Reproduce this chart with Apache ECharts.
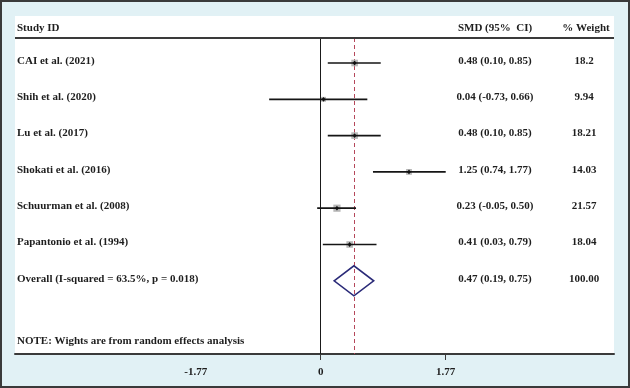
<!DOCTYPE html>
<html>
<head>
<meta charset="utf-8">
<script src="https://cdn.jsdelivr.net/npm/echarts@6/dist/echarts.min.js"></script>
<style>
html,body{margin:0;padding:0;background:#e1f1f5;}
#c{width:630px;height:388px;}
</style>
</head>
<body>
<div id="c"></div>
<script>
const studies = ["CAI et al. (2021)", "Shih et al. (2020)", "Lu et al. (2017)", "Shokati et al. (2016)", "Schuurman et al. (2008)", "Papantonio et al. (1994)"];
const smd = [0.48, 0.04, 0.48, 1.25, 0.23, 0.41];
const lower = [0.10, -0.73, 0.10, 0.74, -0.05, 0.03];
const upper = [0.85, 0.66, 0.85, 1.77, 0.50, 0.79];
const ciText = ["0.48 (0.10, 0.85)", "0.04 (-0.73, 0.66)", "0.48 (0.10, 0.85)", "1.25 (0.74, 1.77)", "0.23 (-0.05, 0.50)", "0.41 (0.03, 0.79)"];
const weights = ["18.2", "9.94", "18.21", "14.03", "21.57", "18.04"];
const weightValues = [18.2, 9.94, 18.21, 14.03, 21.57, 18.04];
const overallLabel = "Overall (I-squared = 63.5%, p = 0.018)";
const overallEst = 0.47, overallLo = 0.19, overallHi = 0.75;
const overallText = "0.47 (0.19, 0.75)";
const overallWeight = "100.00";
const noteText = "NOTE: Wights are from random effects analysis";
const tickValues = [-1.77, 0, 1.77];
const tickLabels = ["-1.77", "0", "1.77"];

const FONT = "Liberation Serif";
const txtStyle = {fontFamily: FONT, fontWeight: 'bold', fontSize: 11, fill: '#1e1e1e'};

const studyData = studies.map((s, i) => [smd[i], i + 1, lower[i], upper[i], weightValues[i]]);
const textRows = studies.map((s, i) => [i + 1, s, ciText[i], weights[i]]);
textRows.push([7, overallLabel, overallText, overallWeight]);
textRows.push([8.71, noteText, "", ""]);

const chart = echarts.init(document.getElementById('c'), null, {renderer: 'canvas'});
chart.setOption({
  backgroundColor: '#e1f1f5',
  animation: false,
  grid: {left: 15, right: 16, top: 38, bottom: 34},
  xAxis: {
    type: 'value', min: -4.329, max: 4.153,
    splitLine: {show: false},
    axisLine: {show: true, onZero: false, lineStyle: {color: '#3a3a3a', width: 2}},
    axisTick: {show: true, customValues: [0, 1.77], length: 6, lineStyle: {color: '#3a3a3a', width: 1}},
    axisLabel: {
      show: true, customValues: tickValues, margin: 13,
      fontFamily: FONT, fontWeight: 'bold', fontSize: 11, color: '#1e1e1e',
      formatter: v => { const i = tickValues.findIndex(t => Math.abs(t - v) < 1e-6); return i >= 0 ? tickLabels[i] : ''; }
    }
  },
  yAxis: {
    type: 'value', min: 0.311, max: 9.017, inverse: true, show: false
  },
  graphic: [
    {type: 'rect', shape: {x: 15, y: 16, width: 599, height: 338}, style: {fill: '#ffffff'}, z: -10},
    {type: 'rect', shape: {x: 1, y: 1, width: 628, height: 386}, style: {fill: 'none', stroke: '#3a3a3a', lineWidth: 2}, z: 100},
    {type: 'line', shape: {x1: 15, y1: 38, x2: 614, y2: 38}, style: {stroke: '#3a3a3a', lineWidth: 2}, z: 50},
    {type: 'text', x: 17, y: 28, style: Object.assign({text: 'Study ID', textVerticalAlign: 'middle', textAlign: 'left'}, txtStyle), z: 50},
    {type: 'text', x: 495, y: 28, style: Object.assign({text: 'SMD (95%  CI)', textVerticalAlign: 'middle', textAlign: 'center'}, txtStyle), z: 50},
    {type: 'text', x: 586, y: 28, style: Object.assign({text: '% Weight', textVerticalAlign: 'middle', textAlign: 'center'}, txtStyle), z: 50}
  ],
  series: [
    {
      type: 'custom',
      data: studyData,
      clip: false,
      renderItem: function (params, api) {
        const y = api.value(1);
        const c = api.coord([api.value(0), y]);
        const l = api.coord([api.value(2), y]);
        const r = api.coord([api.value(3), y]);
        const s = Math.sqrt(api.value(4)) * 1.55;
        return {
          type: 'group',
          children: [
            {type: 'rect', shape: {x: c[0] - s / 2, y: c[1] - s / 2, width: s, height: s}, style: {fill: '#b8b8b8'}},
            {type: 'line', shape: {x1: l[0], y1: c[1], x2: r[0], y2: c[1]}, style: {stroke: '#151515', lineWidth: 1.7}},
            {type: 'polygon', shape: {points: [[c[0], c[1] - 2.4], [c[0] + 1.9, c[1]], [c[0], c[1] + 2.4], [c[0] - 1.9, c[1]]]}, style: {fill: '#111'}}
          ]
        };
      },
      markLine: {
        silent: true, symbol: 'none', label: {show: false},
        data: [
          {xAxis: 0, lineStyle: {color: '#1a1a1a', width: 1, type: 'solid'}},
          {xAxis: overallEst, lineStyle: {color: '#b5475a', width: 1, type: [4, 3]}}
        ]
      },
      z: 5
    },
    {
      type: 'custom',
      data: [[overallEst, 7, overallLo, overallHi]],
      clip: false,
      renderItem: function (params, api) {
        const y = api.value(1);
        const c = api.coord([api.value(0), y]);
        const l = api.coord([api.value(2), y]);
        const r = api.coord([api.value(3), y]);
        const h = 15;
        return {
          type: 'polygon',
          shape: {points: [[l[0], c[1]], [c[0], c[1] - h], [r[0], c[1]], [c[0], c[1] + h]]},
          style: {fill: 'none', stroke: '#2a2a78', lineWidth: 1.6}
        };
      },
      z: 6
    },
    {
      type: 'custom',
      data: textRows,
      clip: false,
      encode: {y: 0},
      renderItem: function (params, api) {
        const p = api.coord([0, api.value(0)]);
        const y = p[1] - 2;
        const row = textRows[params.dataIndex];
        return {
          type: 'group',
          children: [
            {type: 'text', x: 17, y: y, style: Object.assign({text: row[1], textVerticalAlign: 'middle', textAlign: 'left'}, txtStyle)},
            {type: 'text', x: 495, y: y, style: Object.assign({text: row[2], textVerticalAlign: 'middle', textAlign: 'center'}, txtStyle)},
            {type: 'text', x: 584, y: y, style: Object.assign({text: row[3], textVerticalAlign: 'middle', textAlign: 'center'}, txtStyle)}
          ]
        };
      },
      z: 10
    }
  ]
});
</script>
</body>
</html>
